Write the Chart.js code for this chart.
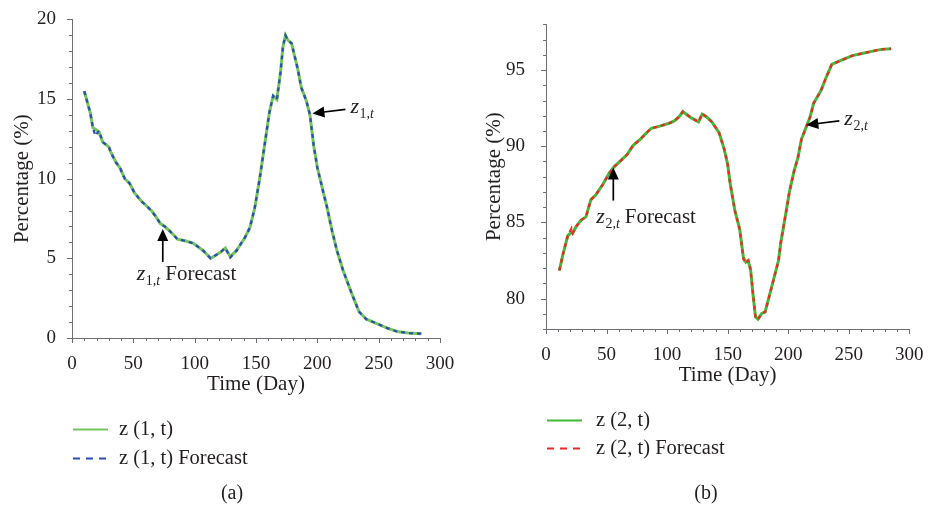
<!DOCTYPE html>
<html>
<head>
<meta charset="utf-8">
<script src="https://cdn.jsdelivr.net/npm/chart.js@4/dist/chart.umd.min.js"></script>
<style>
  html, body { margin: 0; padding: 0; background: #fff; }
  #wrap { position: relative; width: 930px; height: 509px; }
  canvas { position: absolute; top: 0; }
</style>
</head>
<body>
<div id="wrap">
  <canvas id="ca" width="465" height="509" style="left:0px"></canvas>
  <canvas id="cb" width="465" height="509" style="left:465px"></canvas>
</div>
<script>
// ---------- data ----------
const xTicks = [0, 50, 100, 150, 200, 250, 300];
const yTicksA = [0, 5, 10, 15, 20];
const yTicksB = [80, 85, 90, 95];

const daysA = [10,15,17,19,22,25,30,32,36,39,43,47,51,57,60,65,68,72,76,81,86,92,99,107,113,121,125,129,134,141,145,149,153,157,161,164,167,170,172,174,176,179,184,187,191,194,197,200,204,208,212,216,221,228,234,240,249,257,265,274,285];
const z1  = [15.5,14.1,13.2,13.1,12.95,12.3,12.0,11.6,11.0,10.7,10.0,9.7,9.1,8.55,8.35,7.97,7.66,7.18,6.98,6.62,6.2,6.1,5.94,5.48,5.0,5.38,5.65,5.11,5.48,6.31,6.93,8.17,10.0,12.1,14.2,15.2,14.97,16.7,18.3,19.0,18.7,18.5,16.9,15.7,14.9,14.0,12.1,10.7,9.42,8.17,6.73,5.48,4.24,2.8,1.65,1.18,0.89,0.62,0.41,0.31,0.27];
const z1f = [15.5,14.1,13.2,12.7,13.0,12.3,12.0,11.6,11.0,10.7,10.0,9.7,9.1,8.55,8.35,7.97,7.66,7.18,6.98,6.62,6.2,6.1,5.94,5.48,5.0,5.38,5.65,5.05,5.48,6.31,6.93,8.17,10.0,12.1,14.2,15.2,14.97,16.7,18.3,19.0,18.7,18.5,16.9,15.7,14.9,14.0,12.1,10.7,9.42,8.17,6.73,5.48,4.24,2.8,1.65,1.18,0.89,0.62,0.41,0.31,0.27];

const daysB = [11,14,18,21,22,25,29,33,37,41,47,52,56,60,67,72,78,83,87,94,101,106,110,113,120,126,129,133,137,143,147,150,152,156,160,163,165,167,169,171,173,175,178,181,184,188,192,194,198,201,205,208,211,215,218,221,227,231,236,245,253,261,269,277,285];
const z2  = [81.84,82.9,84.13,84.35,84.3,84.74,85.15,85.36,86.48,86.8,87.5,88.2,88.63,88.93,89.45,90.06,90.47,90.88,91.18,91.32,91.49,91.66,91.94,92.27,91.86,91.6,92.1,91.9,91.6,90.88,89.85,88.83,87.6,85.77,84.54,82.7,82.39,82.49,81.88,80.25,78.8,78.65,79.0,79.12,80.04,81.26,82.49,83.72,85.56,87.0,88.42,89.24,90.47,91.29,91.9,92.82,93.64,94.45,95.37,95.68,95.95,96.09,96.23,96.36,96.4];
const z2f = [81.84,82.9,84.13,84.6,84.3,84.74,85.15,85.36,86.48,86.8,87.5,88.2,88.63,88.93,89.45,90.06,90.47,90.88,91.18,91.32,91.49,91.66,91.94,92.27,91.86,91.6,92.15,91.9,91.6,90.88,89.85,88.83,87.6,85.77,84.54,82.6,82.3,82.49,81.88,80.25,78.8,78.6,79.0,79.12,80.04,81.26,82.49,83.72,85.56,87.0,88.42,89.24,90.47,91.29,91.9,92.82,93.64,94.45,95.37,95.68,95.95,96.09,96.23,96.36,96.4];

// ---------- styling ----------
const FONT = '"Liberation Serif", "Times New Roman", serif';
const TXT = '#231f20';
const AXIS = '#6d6e71';

function pts(xs, ys) { return xs.map((x, i) => ({ x: x, y: ys[i] })); }

const decor = {
  id: 'decor',
  afterDraw(chart, args, o) {
    const ctx = chart.ctx, xs = chart.scales.x, ys = chart.scales.y;
    const ca = chart.chartArea;
    ctx.save();
    // tick marks (major + minor)
    ctx.strokeStyle = AXIS; ctx.lineWidth = 1;
    ctx.beginPath();
    for (let v = xs.min; v <= xs.max + 1e-9; v += o.xMinor) {
      const p = Math.round(xs.getPixelForValue(v)) + 0.5;
      const len = (Math.abs(v % o.xMajor) < 1e-9) ? 5 : 3;
      ctx.moveTo(p, ca.bottom); ctx.lineTo(p, ca.bottom + len);
    }
    for (let v = ys.min; v <= ys.max + 1e-9; v += o.yMinor) {
      const p = Math.round(ys.getPixelForValue(v)) + 0.5;
      const len = (Math.abs(v % o.yMajor) < 1e-9) ? 5 : 3;
      ctx.moveTo(ca.left, p); ctx.lineTo(ca.left - len, p);
    }
    ctx.stroke();

    // annotations
    ctx.fillStyle = '#000'; ctx.strokeStyle = '#000';
    for (const a of o.notes) {
      const tx = xs.getPixelForValue(a.x), ty = ys.getPixelForValue(a.y);
      let ex, ey;
      if (a.dir === 'left') { ex = tx + 33; ey = ty - 4; }
      else { ex = tx; ey = ty + 33; }
      const d = Math.hypot(ex - tx, ey - ty), ux = (ex - tx) / d, uy = (ey - ty) / d;
      const hl = 12, hw = 5.5;
      ctx.lineWidth = 1.7;
      ctx.beginPath(); ctx.moveTo(ex, ey); ctx.lineTo(tx + ux * hl * 0.8, ty + uy * hl * 0.8); ctx.stroke();
      ctx.beginPath();
      ctx.moveTo(tx, ty);
      ctx.lineTo(tx + ux * hl - uy * hw, ty + uy * hl + ux * hw);
      ctx.lineTo(tx + ux * hl + uy * hw, ty + uy * hl - ux * hw);
      ctx.closePath(); ctx.fill();
      // label
      let lx = ex + a.lx; const ly = ey + a.ly;
      ctx.fillStyle = TXT; ctx.textBaseline = 'alphabetic'; ctx.textAlign = 'left';
      ctx.font = 'italic 22px ' + FONT; ctx.fillText('z', lx, ly); lx += ctx.measureText('z').width + 0.5;
      ctx.font = '14px ' + FONT; ctx.fillText(a.sub + ',', lx, ly + 5); lx += ctx.measureText(a.sub + ',').width;
      ctx.font = 'italic 14px ' + FONT; ctx.fillText('t', lx, ly + 5); lx += ctx.measureText('t').width;
      if (a.text) { ctx.font = '21px ' + FONT; ctx.fillText(a.text, lx + 5, ly); }
      ctx.fillStyle = '#000';
    }

    // legend
    ctx.textBaseline = 'middle'; ctx.textAlign = 'left';
    ctx.font = '20.5px ' + FONT;
    chart.data.datasets.slice().sort((p, q) => q.order - p.order).forEach((ds, i) => {
      const y = ca.bottom + o.legY + i * o.legGap;
      ctx.strokeStyle = ds.borderColor; ctx.lineWidth = 2;
      ctx.setLineDash(ds.borderDash && ds.borderDash.length ? [7, 6] : []);
      ctx.beginPath(); ctx.moveTo(ca.left + 1, y + 0.5); ctx.lineTo(ca.left + 36, y + 0.5); ctx.stroke();
      ctx.setLineDash([]);
      ctx.fillStyle = TXT; ctx.fillText(ds.label, ca.left + o.legText, y + 1);
    });
    // caption
    ctx.textAlign = 'center'; ctx.font = '20px ' + FONT; ctx.fillStyle = TXT;
    ctx.fillText(o.caption, o.capX, o.capY);
    ctx.restore();
  }
};

function makeChart(id, cfg) {
  return new Chart(document.getElementById(id), {
    type: 'line',
    data: {
      datasets: [
        { label: cfg.lab1, data: cfg.d1, borderColor: cfg.c1, borderWidth: 3, pointRadius: 0, tension: 0, order: 1, fill: false },
        { label: cfg.lab2, data: cfg.d2, borderColor: cfg.c2, borderWidth: 2.3, borderDash: [4, 4], pointRadius: 0, tension: 0, order: 0, fill: false }
      ]
    },
    options: {
      responsive: false, animation: false, devicePixelRatio: 1,
      layout: { padding: cfg.pad },
      plugins: {
        legend: { display: false }, tooltip: { enabled: false },
        decor: cfg.decor
      },
      scales: {
        x: {
          type: 'linear', min: 0, max: 300,
          afterBuildTicks: s => { s.ticks = xTicks.map(v => ({ value: v })); },
          afterFit: s => { s.height = 62; },
          grid: { display: false }, border: { display: true, color: AXIS, width: 1 },
          ticks: { color: TXT, font: { family: FONT, size: 19 }, padding: 6.5, maxRotation: 0, autoSkip: false },
          title: { display: true, text: 'Time (Day)', color: TXT, font: { family: FONT, size: 21 }, padding: { top: 0, bottom: 2.5 } }
        },
        y: {
          type: 'linear', min: cfg.ymin, max: cfg.ymax,
          afterBuildTicks: s => { s.ticks = cfg.yt.map(v => ({ value: v })); },
          afterFit: s => { s.width = cfg.yw; },
          grid: { display: false }, border: { display: true, color: AXIS, width: 1 },
          ticks: { color: TXT, font: { family: FONT, size: 19 }, padding: cfg.ypad, autoSkip: false },
          title: { display: true, text: 'Percentage (%)', color: TXT, font: { family: FONT, size: 21 }, padding: { top: cfg.ytitle, bottom: 0 } }
        }
      }
    },
    plugins: [decor]
  });
}

makeChart('ca', {
  d1: pts(daysA, z1), d2: pts(daysA, z1f),
  lab1: 'z (1, t)', lab2: 'z (1, t) Forecast',
  c1: '#74c65c', c2: '#2c4fae',
  ymin: 0, ymax: 20, yt: yTicksA, yw: 72, ypad: 8, ytitle: 9.5,
  pad: { left: 0, top: 16, right: 25, bottom: 109 },
  decor: {
    xMinor: 10, xMajor: 50, yMinor: 1, yMajor: 5,
    legY: 91, legGap: 29, legText: 47,
    caption: '(a)', capX: 232, capY: 494,
    notes: [
      { x: 196, y: 14.1, dir: 'left', sub: '1', lx: 5, ly: 4, text: '' },
      { x: 74, y: 6.85, dir: 'up', sub: '1', lx: -26, ly: 18, text: 'Forecast' }
    ]
  }
});

makeChart('cb', {
  d1: pts(daysB, z2), d2: pts(daysB, z2f),
  lab1: 'z (2, t)', lab2: 'z (2, t) Forecast',
  c1: '#45b83a', c2: '#ec2a25',
  ymin: 78, ymax: 98, yt: yTicksB, yw: 81, ypad: 13, ytitle: 16.5,
  pad: { left: 0, top: 4, right: 15, bottom: 118 },
  decor: {
    xMinor: 10, xMajor: 50, yMinor: 1, yMajor: 5,
    legY: 91, legGap: 28, legText: 50,
    caption: '(b)', capX: 241, capY: 494,
    notes: [
      { x: 215, y: 91.4, dir: 'left', sub: '2', lx: 5, ly: 4, text: '' },
      { x: 55.6, y: 88.6, dir: 'up', sub: '2', lx: -17, ly: 22, text: 'Forecast' }
    ]
  }
});
</script>
</body>
</html>
